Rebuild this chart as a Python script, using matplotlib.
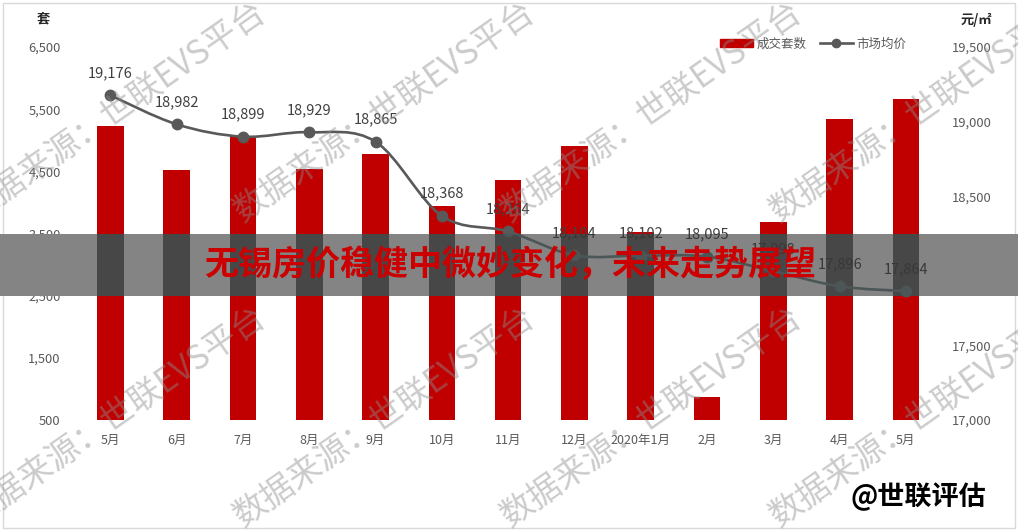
import numpy as np
import matplotlib.pyplot as plt
from matplotlib.patches import Rectangle, PathPatch
from matplotlib.path import Path
from matplotlib.lines import Line2D

plt.rcParams['font.family'] = ['Noto Sans CJK SC', 'DejaVu Sans']

# ---- DATA ----
months = ["5月", "6月", "7月", "8月", "9月", "10月", "11月", "12月",
          "2020年1月", "2月", "3月", "4月", "5月"]
deals = [5230, 4520, 5070, 4535, 4780, 3945, 4365, 4910, 3530, 875, 3690, 5335, 5660]
prices = [19176, 18982, 18899, 18929, 18865, 18368, 18264, 18104, 18102, 18095,
          17998, 17896, 17864]
left_ticks = [500, 1500, 2500, 3500, 4500, 5500, 6500]
right_ticks = [17000, 17500, 18000, 18500, 19000, 19500]

RED = "#c00000"
GRAY = "#595959"

W, H = 1018, 531
fig = plt.figure(figsize=(W / 100, H / 100), dpi=100)


def fx(px):
    return px / W


def fy(py):
    return 1 - py / H


def smooth_path(xs, ys):
    # excel-like smoothed line: cubic bezier through the points
    pts = np.column_stack([xs, ys]).astype(float)
    ext = np.vstack([pts[0], pts, pts[-1]])
    verts = [pts[0]]
    codes = [Path.MOVETO]
    for i in range(len(pts) - 1):
        p0, p1, p2, p3 = ext[i], ext[i + 1], ext[i + 2], ext[i + 3]
        verts += [p1 + (p2 - p0) / 6, p2 - (p3 - p1) / 6, p2]
        codes += [Path.CURVE4] * 3
    return Path(verts, codes)


x = np.arange(len(months))
rect = [fx(77.3), fy(420), fx(939) - fx(77.3), fy(47) - fy(420)]


def draw(axl, axr, bar_c, line_c, text_c, clip=None):
    bars = axl.bar(x, deals, width=0.4, color=bar_c, zorder=2)
    curve = PathPatch(smooth_path(x, prices), fill=False, ec=line_c, lw=1.9, zorder=3)
    axr.add_patch(curve)
    pts, = axr.plot(x, prices, "o", ms=7.5, color=line_c, zorder=4)
    labels = [axr.annotate(f"{p:,}", (i, p), xytext=(0, 16), textcoords="offset points",
                           ha="center", va="center", fontsize=10.5, color=text_c, zorder=5)
              for i, p in zip(x, prices)]
    if clip is not None:
        for a in list(bars) + [curve, pts] + labels:
            a.set_clip_path(clip)


def setup(axl, axr):
    axl.set_xlim(-0.5, len(months) - 0.5)
    axl.set_ylim(left_ticks[0], left_ticks[-1])
    axr.set_ylim(right_ticks[0], right_ticks[-1])
    for a in (axl, axr):
        for s in a.spines.values():
            s.set_visible(False)


# ---- base chart ----
ax = fig.add_axes(rect, zorder=0)
ax2 = ax.twinx()
setup(ax, ax2)
draw(ax, ax2, RED, GRAY, "#404040")

ax.set_xticks(x, months)
ax.set_yticks(left_ticks, [f"{v:,}" for v in left_ticks])
ax2.set_yticks(right_ticks, [f"{v:,}" for v in right_ticks])
ax.tick_params(axis="x", length=0, pad=10, labelsize=9, labelcolor=GRAY)
ax.tick_params(axis="y", length=0, pad=12, labelsize=9.3, labelcolor=GRAY)
ax2.tick_params(axis="y", length=0, pad=9.5, labelsize=9.3, labelcolor=GRAY)

handles = [Rectangle((0, 0), 1, 1, color=RED),
           Line2D([], [], color=GRAY, lw=1.9, marker="o", ms=6)]
ax2.legend(handles, ["成交套数", "市场均价"], ncol=2, frameon=False,
           loc="center left", bbox_to_anchor=(fx(720), fy(44)),
           bbox_transform=fig.transFigure, fontsize=9, labelcolor=GRAY,
           handlelength=2.6, handleheight=0.55, handletextpad=0.3,
           columnspacing=1.1, borderpad=0, borderaxespad=0)

fig.text(fx(43), fy(18), "套", fontsize=9.5, fontweight="bold", color="#262626",
         ha="center", va="center")
fig.text(fx(976), fy(20), "元/㎡", fontsize=9.5, fontweight="bold", color="#262626",
         ha="center", va="center")

# outer frame
fig.add_artist(Rectangle((fx(3), fy(528)), fx(1012), fy(3) - fy(528), transform=fig.transFigure,
                         fill=False, ec="#d9d9d9", lw=1, zorder=0.5))

# watermarks
for yy in [222, 527]:
    for xx in [-26, 243, 510, 779]:
        fig.text(fx(xx), fy(yy), "数据来源：世联EVS平台", rotation=35, rotation_mode="anchor",
                 ha="left", va="baseline", fontsize=24, fontweight="light",
                 color="#8c8c8c", alpha=0.45, zorder=1.5)

# ---- title band ----
band_y0, band_y1 = 234, 296
fig.add_artist(Rectangle((0, fy(band_y1)), 1, fy(band_y0) - fy(band_y1),
                         transform=fig.transFigure, fc="#848484", ec="none", zorder=2))
clip = Rectangle((0, fy(band_y1)), 1, fy(band_y0) - fy(band_y1), transform=fig.transFigure)

ovl = fig.add_axes(rect, zorder=3)
ovl2 = ovl.twinx()
setup(ovl, ovl2)
for a in (ovl, ovl2):
    a.axis("off")
draw(ovl, ovl2, "#474747", "#4c5656", "#383838", clip=clip)

fig.text(fx(510), fy(265), "无锡房价稳健中微妙变化，未来走势展望", fontsize=24.5,
         fontweight="heavy", color="#cc0000", ha="center", va="center", zorder=6)
fig.text(fx(918), fy(497), "@世联评估", fontsize=19.5, fontweight="bold", color="black",
         ha="center", va="center", zorder=6)

fig.savefig("out.png", dpi=100)
